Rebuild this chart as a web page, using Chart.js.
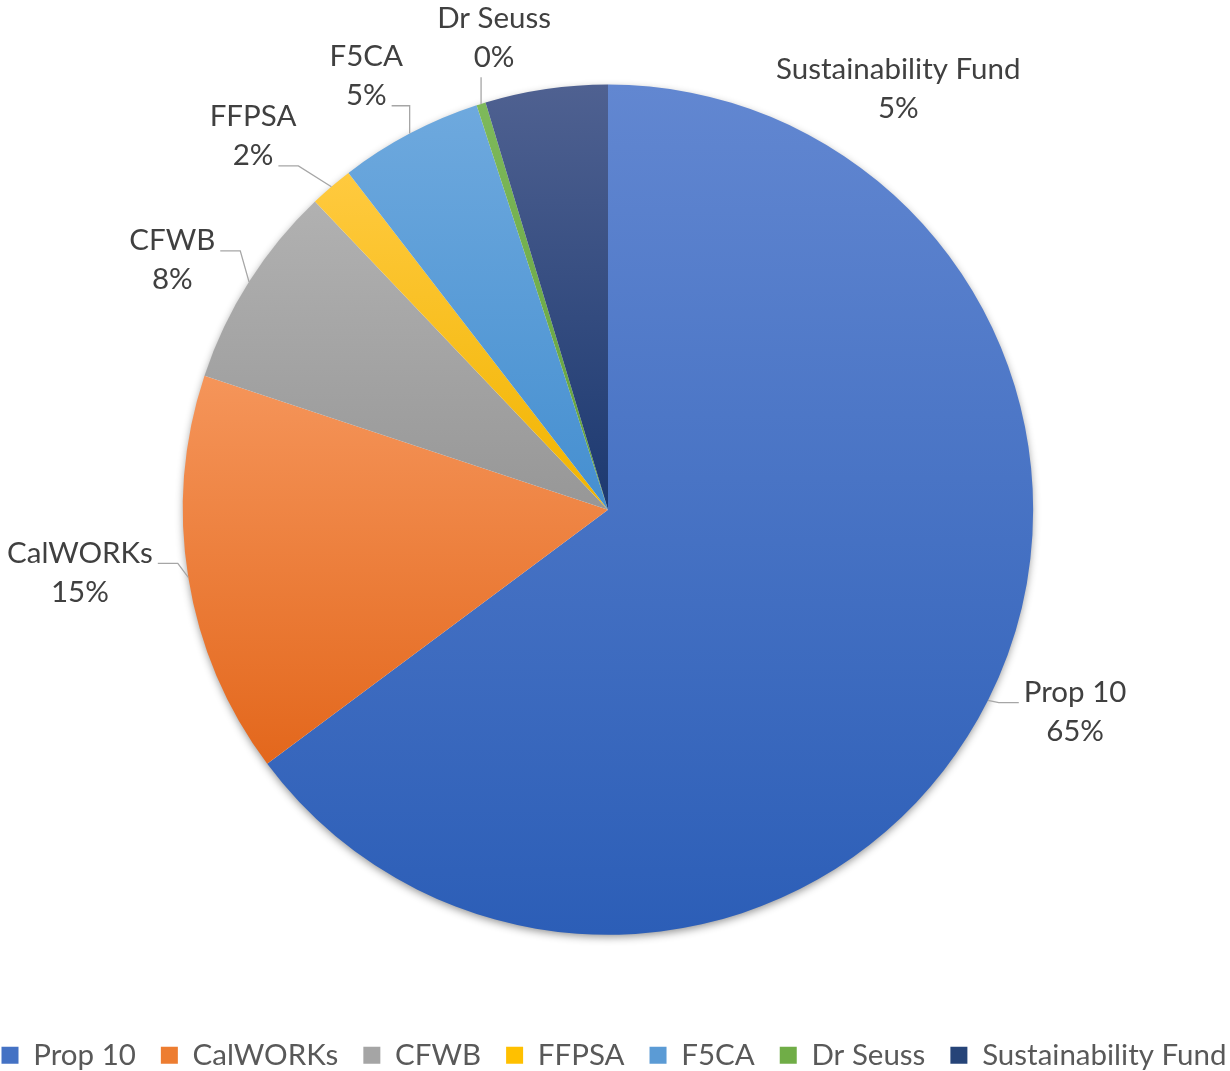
<!DOCTYPE html>
<html>
<head>
<meta charset="utf-8">
<title>Funding sources</title>
<script src="https://cdn.jsdelivr.net/npm/chart.js@4.4.1/dist/chart.umd.min.js"></script>
<style>
  html, body { margin: 0; padding: 0; background: #fff; }
  #wrap { width: 1230px; height: 1071px; }
</style>
</head>
<body>
<div id="wrap"><canvas id="fundChart"></canvas></div>
<script>
// values (percent of total)
const categories = ['Prop 10', 'CalWORKs', 'CFWB', 'FFPSA', 'F5CA', 'Dr Seuss', 'Sustainability Fund'];
const shares = [64.8, 15.3, 7.8, 1.65, 5.45, 0.35, 4.65];

// office palette, light top / dark bottom of each slice
const topColors = ['#6287d1', '#f5955a', '#b1b1b1', '#ffca3f', '#6ea9de', '#7eb95b', '#4f6191'];
const bottomColors = ['#2c5eb7', '#e3671c', '#979797', '#f1b400', '#458fd0', '#62a03a', '#1c3970'];
const midColors = ['#4472c4', '#ed7d31', '#a5a5a5', '#ffc000', '#5b9bd5', '#70ad47', '#264478'];

const FONT = 'Lato';
const FONT_SIZE = 29.5;
const total = shares.reduce((a, b) => a + b, 0);

function pieGeom(chart) {
  const ca = chart.chartArea;
  return {
    cx: (ca.left + ca.right) / 2,
    cy: (ca.top + ca.bottom) / 2,
    r: Math.min(ca.right - ca.left, ca.bottom - ca.top) / 2
  };
}

// vertical gradient over the bounding box of each slice
function sliceGradient(c) {
  const chart = c.chart;
  const i = c.dataIndex;
  if (!chart.chartArea || i === undefined) return midColors[i] || '#999';
  const {cx, cy, r} = pieGeom(chart);
  let before = 0;
  for (let k = 0; k < i; k++) before += shares[k];
  const a0 = -Math.PI / 2 + before / total * 2 * Math.PI;
  const a1 = a0 + shares[i] / total * 2 * Math.PI;
  const ys = [cy, cy + r * Math.sin(a0), cy + r * Math.sin(a1)];
  [-Math.PI / 2, Math.PI / 2, 3 * Math.PI / 2].forEach(a => {
    if (a >= a0 && a <= a1) ys.push(cy + r * Math.sin(a));
  });
  const g = chart.ctx.createLinearGradient(0, Math.min(...ys), 0, Math.max(...ys));
  g.addColorStop(0, topColors[i]);
  g.addColorStop(1, bottomColors[i]);
  return g;
}

// soft shadow under the pie
const pieShadow = {
  id: 'pieShadow',
  beforeDatasetsDraw(chart) {
    const {cx, cy, r} = pieGeom(chart);
    const ctx = chart.ctx;
    ctx.save();
    ctx.shadowColor = 'rgba(0,0,0,0.45)';
    ctx.shadowBlur = 9;
    ctx.shadowOffsetY = 3;
    ctx.beginPath();
    ctx.arc(cx, cy, r - 1, 0, Math.PI * 2);
    ctx.fillStyle = '#ffffff';
    ctx.fill();
    ctx.restore();
  }
};

// outside labels with leader lines, Excel style
const outsideLabels = {
  id: 'outsideLabels',
  afterDatasetsDraw(chart, args, opts) {
    const ctx = chart.ctx;
    const meta = chart.getDatasetMeta(0);
    const lh = opts.lineHeight;
    ctx.save();
    ctx.font = opts.size + 'px ' + FONT;
    ctx.textBaseline = 'middle';
    ctx.textAlign = 'center';
    meta.data.forEach((arc, i) => {
      const name = categories[i];
      const pct = Math.round(shares[i] / total * 100) + '%';
      const lines = [name, pct];
      const widths = lines.map(t => ctx.measureText(t).width);
      const bw = Math.max(...widths);
      const mid = (arc.startAngle + arc.endAngle) / 2;
      const dx = Math.cos(mid), dy = Math.sin(mid);
      const R = arc.outerRadius;
      const ex = arc.x + R * dx, ey = arc.y + R * dy;
      const ax = arc.x + (R + opts.gap) * dx, ay = arc.y + (R + opts.gap) * dy;
      const nudge = opts.nudges[name] || [0, 0];
      let bx, by;
      if (dx >= 0.4) { bx = ax + bw / 2; by = ay; }
      else if (dx <= -0.4) { bx = ax - bw / 2; by = ay; }
      else { bx = ax; by = ay - lh; }
      bx += nudge[0];
      by += nudge[1];
      const lineY = [by - lh / 2, by + lh / 2];

      ctx.fillStyle = opts.color;
      lines.forEach((t, k) => ctx.fillText(t, bx, lineY[k]));

      if (opts.noLeader.includes(name)) return;
      const useLast = ey > by + lh;
      const k = useLast ? 1 : 0;
      const lw = widths[k];
      const lLeft = bx - lw / 2, lRight = bx + lw / 2;
      ctx.strokeStyle = opts.lineColor;
      ctx.lineWidth = 1.3;
      ctx.beginPath();
      if (ex >= lLeft && ex <= lRight) {
        ctx.moveTo(ex, lineY[k] + 20);
        ctx.lineTo(ex, ey);
      } else if (ex < lLeft) {
        const tx = lLeft - 5, ty = lineY[k] + 10;
        const kx = tx - Math.min(20, tx - ex);
        ctx.moveTo(tx, ty);
        ctx.lineTo(kx, ty);
        ctx.lineTo(ex, ey);
      } else {
        const tx = lRight + 5, ty = lineY[k] + 10;
        const kx = tx + Math.min(20, ex - tx);
        ctx.moveTo(tx, ty);
        ctx.lineTo(kx, ty);
        ctx.lineTo(ex, ey);
      }
      ctx.stroke();
    });
    ctx.restore();
  }
};

// keep all legend entries on one row like the original
const legendOneRow = {
  id: 'legendOneRow',
  afterInit(chart) {
    const lg = chart.legend;
    if (!lg || lg._oneRow) return;
    const fitRows = lg._fitRows;
    lg._fitRows = function (...a) {
      const m = this.maxWidth;
      this.maxWidth = m + 600;
      const h = fitRows.apply(this, a);
      this.maxWidth = m;
      return h;
    };
    const draw = lg.draw;
    lg.draw = function (...a) {
      const l = this.left, r = this.right;
      this.left = l - 300 + 6;
      this.right = r + 300 + 6;
      draw.apply(this, a);
      this.left = l;
      this.right = r;
    };
    lg._oneRow = true;
  }
};

const ctx = document.getElementById('fundChart').getContext('2d');

new Chart(ctx, {
  type: 'pie',
  data: {
    labels: categories,
    datasets: [{
      data: shares,
      backgroundColor: sliceGradient,
      borderWidth: 0
    }]
  },
  options: {
    responsive: true,
    maintainAspectRatio: false,
    animation: false,
    layout: { padding: { top: 84.5, bottom: -9, left: 0, right: 14 } },
    plugins: {
      tooltip: { enabled: false },
      legend: {
        position: 'bottom',
        title: { display: true, text: ' ', font: { size: 1 }, padding: { top: 79.5, bottom: 0 } },
        labels: {
          boxWidth: 17,
          boxHeight: 17,
          padding: 25,
          color: '#595959',
          font: { family: FONT, size: FONT_SIZE },
          generateLabels: () => categories.map((c, i) => ({
            text: c,
            fillStyle: midColors[i],
            strokeStyle: midColors[i],
            lineWidth: 0,
            hidden: false,
            index: i,
            fontColor: '#595959'
          }))
        }
      },
      outsideLabels: {
        size: FONT_SIZE,
        lineHeight: 39,
        gap: 40,
        color: '#404040',
        lineColor: '#a6a6a6',
        nudges: {
          'Prop 10': [0, -6],
          'CalWORKs': [4, -11],
          'FFPSA': [-9, -20],
          'F5CA': [12, -22],
          'Dr Seuss': [25, 11],
          'Sustainability Fund': [358, 79]
        },
        noLeader: ['Sustainability Fund']
      }
    }
  },
  plugins: [pieShadow, outsideLabels, legendOneRow]
});
</script>
</body>
</html>
